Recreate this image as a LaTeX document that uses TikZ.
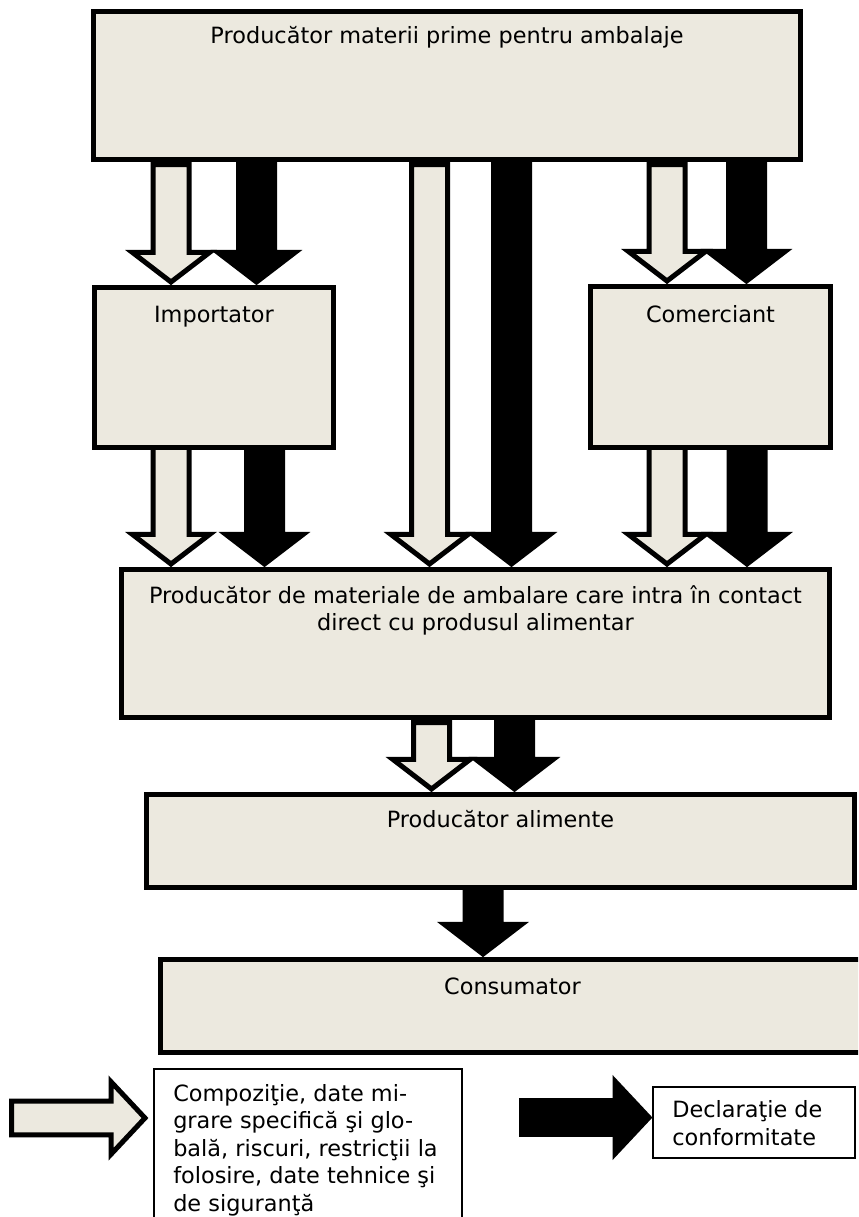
\documentclass[tikz,border=0pt]{standalone}
\usepackage{fontspec}
\setmainfont{DejaVu Sans}
\usetikzlibrary{calc,fit}
\pgfdeclarelayer{bg}
\pgfsetlayers{bg,main}
\definecolor{paper}{RGB}{236,233,223}

\tikzset{
  box/.style={draw=black, line width=3.75pt, fill=paper, inner sep=0pt, rectangle},
  legbox/.style={draw=black, line width=1.5pt, fill=white, inner sep=0pt, rectangle},
  lbl/.style={inner sep=0pt, font=\fontsize{16.8pt}{20.25pt}\selectfont},
  leglbl/.style={inner sep=0pt, align=left, font=\fontsize{16.8pt}{20.6pt}\selectfont},
  lightarrow/.style={draw=black, fill=paper, line width=3.75pt, miter limit=10},
  darkarrow/.style={draw=black, fill=black, line width=3.75pt, miter limit=10},
}

% broad block arrow pointing down:
% style, start on the source box, tip on the target box, gap below the source border
\newcommand\flowdown[4]{%
  \path[#1] let \p1=(#2), \p2=(#3) in
    (\x2,\y2+2.25pt) -- (\x2+28.9pt,\y2+24.4pt) -- (\x2+13.5pt,\y2+24.4pt)
    -- (\x2+13.5pt,\y1-#4) -- (\x2-13.5pt,\y1-#4) -- (\x2-13.5pt,\y2+24.4pt)
    -- (\x2-28.9pt,\y2+24.4pt) -- cycle;}

% broad block arrow pointing right: style, tail, tip
\newcommand\flowright[3]{%
  \path[#1] let \p1=(#2), \p2=(#3) in
    (\x2,\y2) -- (\x2-25.5pt,\y2+27.2pt) -- (\x2-25.5pt,\y2+12.6pt)
    -- (\x1,\y2+12.6pt) -- (\x1,\y2-12.6pt) -- (\x2-25.5pt,\y2-12.6pt)
    -- (\x2-25.5pt,\y2-27.2pt) -- cycle;}

\begin{document}
\begin{tikzpicture}[x=0.75pt,y=-0.75pt]
\useasboundingbox (0,0) rectangle (858,1217);
\clip (0,0) rectangle (858,1217);

% boxes of the supply chain
\node[box, fit={(93.5,11.5)(800.5,159.5)}] (top) {};
\node[box, fit={(94.5,287.5)(333.5,447.5)}] (imp) {};
\node[box, fit={(590.5,286.5)(830.5,447.5)}] (com) {};
\node[box, fit={(121.5,569.5)(829.5,717.5)}] (mat) {};
\node[box, fit={(146.5,794.5)(854.5,887.5)}] (ali) {};
\node[box, fit={(160.5,959.5)(864.5,1052.5)}] (con) {};

% box captions (base anchor = baseline of the last line)
\node[lbl, anchor=base] (topt) at (top.north |- 0,43) {Producător materii prime pentru ambalaje};
\node[lbl, anchor=base] (impt) at (imp.north |- 0,322) {Importator};
\node[lbl, anchor=base] (comt) at (com.north |- 0,322) {Comerciant};
\node[lbl, anchor=base, align=center] (matt) at (mat.north |- 0,630)
  {Producător de materiale de ambalare care intra în contact\\direct cu produsul alimentar};
\node[lbl, anchor=base] (alit) at (ali.north |- 0,827) {Producător alimente};
\node[lbl, anchor=base] (cont) at (con.north |- 0,994) {Consumator};

% flows between the boxes
\begin{pgfonlayer}{bg}
\flowdown{lightarrow}{top.south -| 171,0}{imp.north -| 171,0}{1.9pt}
\flowdown{darkarrow}{top.south -| 256.5,0}{imp.north -| 256.5,0}{1.9pt}
\flowdown{lightarrow}{top.south -| 429.5,0}{mat.north -| 429.5,0}{1.9pt}
\flowdown{darkarrow}{top.south -| 511.5,0}{mat.north -| 511.5,0}{1.9pt}
\flowdown{lightarrow}{top.south -| 667,0}{com.north -| 667,0}{1.9pt}
\flowdown{darkarrow}{top.south -| 746.5,0}{com.north -| 746.5,0}{1.9pt}
\flowdown{lightarrow}{imp.south -| 171,0}{mat.north -| 171,0}{-2pt}
\flowdown{darkarrow}{imp.south -| 264.5,0}{mat.north -| 264.5,0}{-2pt}
\flowdown{lightarrow}{com.south -| 667,0}{mat.north -| 667,0}{-2pt}
\flowdown{darkarrow}{com.south -| 747,0}{mat.north -| 747,0}{-2pt}
\flowdown{lightarrow}{mat.south -| 431.5,0}{ali.north -| 431.5,0}{1.9pt}
\flowdown{darkarrow}{mat.south -| 514.5,0}{ali.north -| 514.5,0}{1.9pt}
\flowdown{darkarrow}{ali.south -| 483,0}{con.north -| 483,0}{-2pt}
\end{pgfonlayer}

% legend
\node[legbox, fit={(153.5,1068.5)(461.5,1240)}] (leg1) {};
\node[legbox, fit={(652.5,1086.5)(854.5,1157.5)}] (leg2) {};
\node[leglbl, anchor=base west] (leg1t) at (173,1211)
  {Compoziţie, date mi-\\grare specifică şi glo-\\bală, riscuri, restricţii la\\folosire, date tehnice şi\\de siguranţă};
\node[leglbl, anchor=base west] (leg2t) at (672,1145) {Declaraţie de\\conformitate};
\coordinate (lt) at (11.5,1118);
\coordinate (dt) at (521.5,1117.5);
\flowright{lightarrow}{lt}{$(leg1.west |- lt)+(-7.5,0)$}
\flowright{darkarrow}{dt}{$(leg2.west |- dt)+(-2.5,0)$}
\end{tikzpicture}
\end{document}
